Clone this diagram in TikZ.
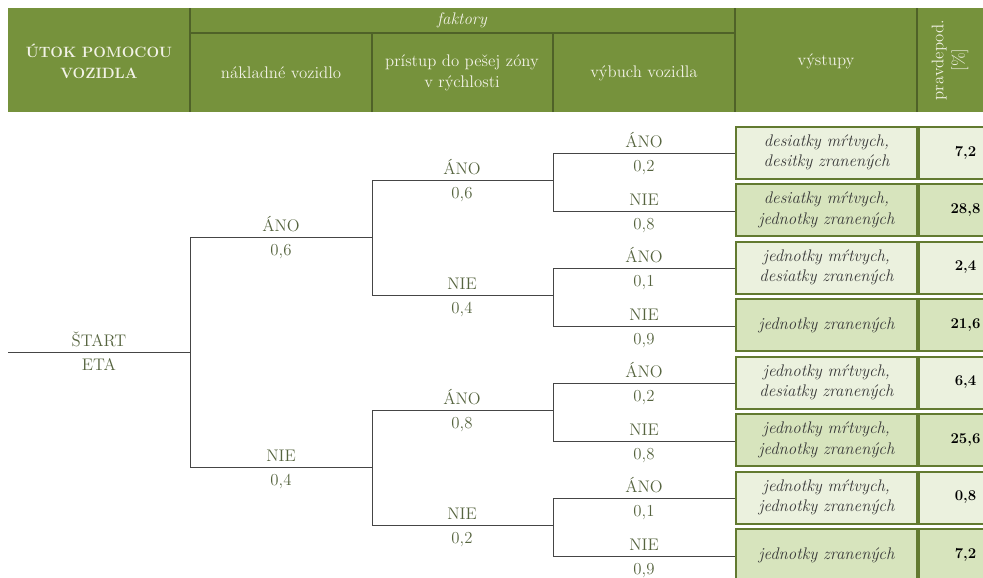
\documentclass[tikz,border=0pt]{standalone}
\usepackage{fontspec}

\newcommand{\fsz}{\rmfamily\fontsize{12.6}{15.5}\selectfont}
\newcommand{\fszb}{\rmfamily\fontsize{11.2}{15.5}\selectfont\bfseries}
\definecolor{hdrgreen}{HTML}{76923C}
\definecolor{hdrline}{HTML}{4F6228}
\definecolor{hdrtext}{HTML}{F2F2E6}
\definecolor{rowlight}{HTML}{EBF1DE}
\definecolor{rowdark}{HTML}{D7E4BD}
\definecolor{rowline}{HTML}{627A30}
\definecolor{labgreen}{HTML}{56643F}
\definecolor{treeline}{HTML}{454545}

\begin{document}
\begin{tikzpicture}[x=0.75pt, y=-0.75pt,
    every node/.style={font=\fsz, inner sep=0pt},
    hdr/.style={text=hdrtext, align=center},
    lab/.style={text=labgreen, anchor=base},
    branch/.style={treeline, line width=0.75pt},
    outbox/.style={draw=rowline, line width=1.5pt, minimum width=135.75pt,
      minimum height=39pt, align=center, font=\fsz\itshape, text=black!78},
    probbox/.style={draw=rowline, line width=1.5pt, minimum width=69.75pt,
      minimum height=39pt, font=\fszb}]
        \clip (0,0) rectangle (983,578);
        % header
        \fill[hdrgreen] (8,8) rectangle (983,112);
        \draw[hdrline, line width=0.9pt] (190,33) -- (735,33) (372,33) -- (372,112) (553,33) -- (553,112);
        \draw[hdrline, line width=1.8pt] (190,8) -- (190,112) (735,8) -- (735,112) (917,8) -- (917,112);
        \node[hdr, font=\fszb] (title) at (99,61) {ÚTOK POMOCOU\\VOZIDLA};
        \node[hdr, font=\fsz\itshape] (fakt) at (462,20) {faktory};
        \node[hdr] (nakl) at (281,73) {nákladné vozidlo};
        \node[hdr] (prist) at (462,73) {prístup do pešej zóny\\v rýchlosti};
        \node[hdr] (vyb) at (644,73) {výbuch vozidla};
        \node[hdr] (vyst) at (826,61) {výstupy};
        \node[hdr, rotate=90] (prav) at (950,60) {pravdepod.\\{}[\%]};
        % outputs
        \foreach \i/\t/\p/\c in {1/{desiatky mŕtvych,\\desitky zranených}/{7,2}/rowlight,
            2/{desiatky mŕtvych,\\jednotky zranených}/{28,8}/rowdark,
            3/{jednotky mŕtvych,\\desiatky zranených}/{2,4}/rowlight,
            4/{jednotky zranených}/{21,6}/rowdark,
            5/{jednotky mŕtvych,\\desiatky zranených}/{6,4}/rowlight,
            6/{jednotky mŕtvych,\\jednotky zranených}/{25,6}/rowdark,
            7/{jednotky mŕtvych,\\jednotky zranených}/{0,8}/rowlight,
            8/{jednotky zranených}/{7,2}/rowdark}{
          \node[outbox, fill=\c] (o\i) at (826.5,{152.5+57.5*(\i-1)}) {\t};
          \node[probbox, fill=\c, anchor=west] (p\i) at (o\i.east) {\p};
        }
        % tree
        \coordinate (s) at (8,352);
        \coordinate (r) at (190,352);
        \coordinate (r1) at (190,237);
        \coordinate (r0) at (190,467);
        \coordinate (a1) at (372,180);
        \coordinate (a0) at (372,295);
        \coordinate (n1) at (372,410);
        \coordinate (n0) at (372,525);
        \coordinate (aa1) at (553,153);
        \coordinate (aa0) at (553,211);
        \coordinate (an1) at (553,268);
        \coordinate (an0) at (553,326);
        \coordinate (na1) at (553,383);
        \coordinate (na0) at (553,441);
        \coordinate (nn1) at (553,498);
        \coordinate (nn0) at (553,556);
        \draw[branch] (s) -- (r) (r1) -- (r0) (a1) -- (a0) (n1) -- (n0);
        \draw[branch] (r1) -- (r1 -| a1) (r0) -- (r0 -| n0);
        \draw[branch] (aa1) -- (aa0) (an1) -- (an0) (na1) -- (na0) (nn1) -- (nn0);
        \draw[branch] (a1) -- (a1 -| aa1) (a0) -- (a0 -| an0) (n1) -- (n1 -| na1) (n0) -- (n0 -| nn0);
        \draw[branch] (aa1) -- (aa1 -| o1.west) (aa0) -- (aa0 -| o2.west)
          (an1) -- (an1 -| o3.west) (an0) -- (an0 -| o4.west)
          (na1) -- (na1 -| o5.west) (na0) -- (na0 -| o6.west)
          (nn1) -- (nn1 -| o7.west) (nn0) -- (nn0 -| o8.west);
        % labels
        \node[lab] (st) at (99,346) {ŠTART};
        \node[lab] (eta) at (99,370) {ETA};
        \foreach \x/\y/\t/\p in {281/237/ÁNO/{0,6}, 281/467/NIE/{0,4},
            462/180/ÁNO/{0,6}, 462/295/NIE/{0,4}, 462/410/ÁNO/{0,8}, 462/525/NIE/{0,2},
            644/153/ÁNO/{0,2}, 644/211/NIE/{0,8}, 644/268/ÁNO/{0,1}, 644/326/NIE/{0,9},
            644/383/ÁNO/{0,2}, 644/441/NIE/{0,8}, 644/498/ÁNO/{0,1}, 644/556/NIE/{0,9}}{
          \node[lab] (t\y) at (\x,{\y-6}) {\t};
          \node[lab] (v\y) at (\x,{\y+18}) {\p};
        }
      \end{tikzpicture}
\end{document}
